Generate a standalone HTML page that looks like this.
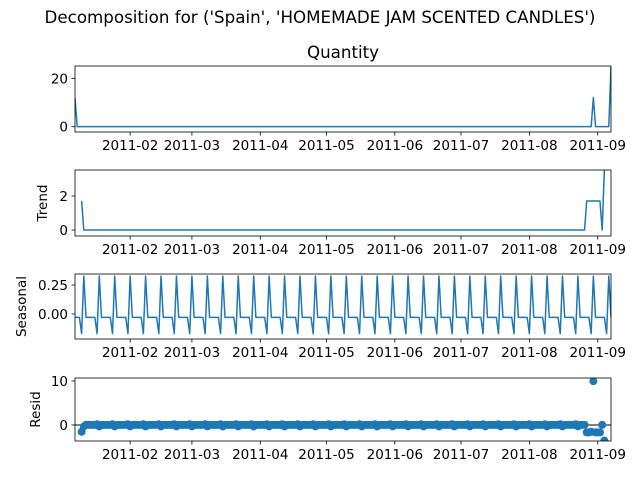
<!DOCTYPE html>
<html><head><meta charset="utf-8"><style>
html,body{margin:0;padding:0;background:#fff;width:640px;height:480px;overflow:hidden}
svg{font-family:"DejaVu Sans","Liberation Sans",sans-serif}
</style></head><body>
<svg id="fig" width="640" height="480" viewBox="0 0 640 480">
<text x="320" y="23" font-size="16.7" text-anchor="middle">Decomposition for ('Spain', 'HOMEMADE JAM SCENTED CANDLES')</text>
<text x="343" y="58" font-size="16.7" text-anchor="middle">Quantity</text>
</svg>
<script>
const startDate = "2011-01-07";
const monthTickLabels = ["2011-02","2011-03","2011-04","2011-05","2011-06","2011-07","2011-08","2011-09"];
const monthTickDays = [25,53,84,114,145,175,206,237];
const quantity = [
12,0,0,0,0,0,0, 0,0,0,0,0,0,0, 0,0,0,0,0,0,0, 0,0,0,0,0,0,0, 0,0,0,0,0,0,0,
0,0,0,0,0,0,0, 0,0,0,0,0,0,0, 0,0,0,0,0,0,0, 0,0,0,0,0,0,0, 0,0,0,0,0,0,0,
0,0,0,0,0,0,0, 0,0,0,0,0,0,0, 0,0,0,0,0,0,0, 0,0,0,0,0,0,0, 0,0,0,0,0,0,0,
0,0,0,0,0,0,0, 0,0,0,0,0,0,0, 0,0,0,0,0,0,0, 0,0,0,0,0,0,0, 0,0,0,0,0,0,0,
0,0,0,0,0,0,0, 0,0,0,0,0,0,0, 0,0,0,0,0,0,0, 0,0,0,0,0,0,0, 0,0,0,0,0,0,0,
0,0,0,0,0,0,0, 0,0,0,0,0,0,0, 0,0,0,0,0,0,0, 0,0,0,0,0,0,0, 0,0,0,0,0,0,0,
0,0,0,0,0,0,0, 0,0,0,0,0,0,0, 0,0,0,0,0,0,0, 0,0,0,0,12,0,0, 0,0,0,0,0,25];
const trend = [
null,null,null,1.71,0,0,0, 0,0,0,0,0,0,0, 0,0,0,0,0,0,0, 0,0,0,0,0,0,0, 0,0,0,0,0,0,0,
0,0,0,0,0,0,0, 0,0,0,0,0,0,0, 0,0,0,0,0,0,0, 0,0,0,0,0,0,0, 0,0,0,0,0,0,0,
0,0,0,0,0,0,0, 0,0,0,0,0,0,0, 0,0,0,0,0,0,0, 0,0,0,0,0,0,0, 0,0,0,0,0,0,0,
0,0,0,0,0,0,0, 0,0,0,0,0,0,0, 0,0,0,0,0,0,0, 0,0,0,0,0,0,0, 0,0,0,0,0,0,0,
0,0,0,0,0,0,0, 0,0,0,0,0,0,0, 0,0,0,0,0,0,0, 0,0,0,0,0,0,0, 0,0,0,0,0,0,0,
0,0,0,0,0,0,0, 0,0,0,0,0,0,0, 0,0,0,0,0,0,0, 0,0,0,0,0,0,0, 0,0,0,0,0,0,0,
0,0,0,0,0,0,0, 0,0,0,0,0,0,0, 0,0,0,0,0,0,0, 0,1.71,1.71,1.71,1.71,1.71,1.71, 1.71,0,3.57,null,null,null];
const seasonal = [
-0.029,-0.029,-0.029,-0.17,0.327,-0.029,-0.029, -0.029,-0.029,-0.029,-0.17,0.327,-0.029,-0.029, -0.029,-0.029,-0.029,-0.17,0.327,-0.029,-0.029, -0.029,-0.029,-0.029,-0.17,0.327,-0.029,-0.029, -0.029,-0.029,-0.029,-0.17,0.327,-0.029,-0.029,
-0.029,-0.029,-0.029,-0.17,0.327,-0.029,-0.029, -0.029,-0.029,-0.029,-0.17,0.327,-0.029,-0.029, -0.029,-0.029,-0.029,-0.17,0.327,-0.029,-0.029, -0.029,-0.029,-0.029,-0.17,0.327,-0.029,-0.029, -0.029,-0.029,-0.029,-0.17,0.327,-0.029,-0.029,
-0.029,-0.029,-0.029,-0.17,0.327,-0.029,-0.029, -0.029,-0.029,-0.029,-0.17,0.327,-0.029,-0.029, -0.029,-0.029,-0.029,-0.17,0.327,-0.029,-0.029, -0.029,-0.029,-0.029,-0.17,0.327,-0.029,-0.029, -0.029,-0.029,-0.029,-0.17,0.327,-0.029,-0.029,
-0.029,-0.029,-0.029,-0.17,0.327,-0.029,-0.029, -0.029,-0.029,-0.029,-0.17,0.327,-0.029,-0.029, -0.029,-0.029,-0.029,-0.17,0.327,-0.029,-0.029, -0.029,-0.029,-0.029,-0.17,0.327,-0.029,-0.029, -0.029,-0.029,-0.029,-0.17,0.327,-0.029,-0.029,
-0.029,-0.029,-0.029,-0.17,0.327,-0.029,-0.029, -0.029,-0.029,-0.029,-0.17,0.327,-0.029,-0.029, -0.029,-0.029,-0.029,-0.17,0.327,-0.029,-0.029, -0.029,-0.029,-0.029,-0.17,0.327,-0.029,-0.029, -0.029,-0.029,-0.029,-0.17,0.327,-0.029,-0.029,
-0.029,-0.029,-0.029,-0.17,0.327,-0.029,-0.029, -0.029,-0.029,-0.029,-0.17,0.327,-0.029,-0.029, -0.029,-0.029,-0.029,-0.17,0.327,-0.029,-0.029, -0.029,-0.029,-0.029,-0.17,0.327,-0.029,-0.029, -0.029,-0.029,-0.029,-0.17,0.327,-0.029,-0.029,
-0.029,-0.029,-0.029,-0.17,0.327,-0.029,-0.029, -0.029,-0.029,-0.029,-0.17,0.327,-0.029,-0.029, -0.029,-0.029,-0.029,-0.17,0.327,-0.029,-0.029, -0.029,-0.029,-0.029,-0.17,0.327,-0.029,-0.029, -0.029,-0.029,-0.029,-0.17,0.327,-0.029];
const resid = [
null,null,null,-1.54,-0.327,0.029,0.029, 0.029,0.029,0.029,0.17,-0.327,0.029,0.029, 0.029,0.029,0.029,0.17,-0.327,0.029,0.029, 0.029,0.029,0.029,0.17,-0.327,0.029,0.029, 0.029,0.029,0.029,0.17,-0.327,0.029,0.029,
0.029,0.029,0.029,0.17,-0.327,0.029,0.029, 0.029,0.029,0.029,0.17,-0.327,0.029,0.029, 0.029,0.029,0.029,0.17,-0.327,0.029,0.029, 0.029,0.029,0.029,0.17,-0.327,0.029,0.029, 0.029,0.029,0.029,0.17,-0.327,0.029,0.029,
0.029,0.029,0.029,0.17,-0.327,0.029,0.029, 0.029,0.029,0.029,0.17,-0.327,0.029,0.029, 0.029,0.029,0.029,0.17,-0.327,0.029,0.029, 0.029,0.029,0.029,0.17,-0.327,0.029,0.029, 0.029,0.029,0.029,0.17,-0.327,0.029,0.029,
0.029,0.029,0.029,0.17,-0.327,0.029,0.029, 0.029,0.029,0.029,0.17,-0.327,0.029,0.029, 0.029,0.029,0.029,0.17,-0.327,0.029,0.029, 0.029,0.029,0.029,0.17,-0.327,0.029,0.029, 0.029,0.029,0.029,0.17,-0.327,0.029,0.029,
0.029,0.029,0.029,0.17,-0.327,0.029,0.029, 0.029,0.029,0.029,0.17,-0.327,0.029,0.029, 0.029,0.029,0.029,0.17,-0.327,0.029,0.029, 0.029,0.029,0.029,0.17,-0.327,0.029,0.029, 0.029,0.029,0.029,0.17,-0.327,0.029,0.029,
0.029,0.029,0.029,0.17,-0.327,0.029,0.029, 0.029,0.029,0.029,0.17,-0.327,0.029,0.029, 0.029,0.029,0.029,0.17,-0.327,0.029,0.029, 0.029,0.029,0.029,0.17,-0.327,0.029,0.029, 0.029,0.029,0.029,0.17,-0.327,0.029,0.029,
0.029,0.029,0.029,0.17,-0.327,0.029,0.029, 0.029,0.029,0.029,0.17,-0.327,0.029,0.029, 0.029,0.029,0.029,0.17,-0.327,0.029,0.029, 0.029,-1.68,-1.68,-1.54,9.96,-1.68,-1.68, -1.68,0.029,-3.54,null,null,null];
const quantityTicks = [0,20];
const trendTicks = [0,2];
const seasonalTicks = [0,0.25];
const seasonalTickLabels = ["0.00","0.25"];
const residTicks = [0,10];

const svg = document.getElementById('fig');
const NS = "http://www.w3.org/2000/svg";
const X0 = 75, X1 = 611;
const nDays = quantity.length - 1;
function xs(d){ return X0 + d * (X1 - X0) / nDays; }
function mk(tag, attrs, parent){ const e = document.createElementNS(NS, tag); for (const k in attrs) e.setAttribute(k, attrs[k]); (parent||svg).appendChild(e); return e; }

const panels = [
 {key:'quantity', data:quantity, top:66, bot:132, lo:-2.2, hi:25.1, ticks:quantityTicks, labels:quantityTicks.map(String), ylabel:null, lx:0, kind:'line'},
 {key:'trend', data:trend, top:170, bot:236, lo:-0.35, hi:3.53, ticks:trendTicks, labels:trendTicks.map(String), ylabel:'Trend', lx:47, kind:'line'},
 {key:'seasonal', data:seasonal, top:274, bot:339, lo:-0.216, hi:0.345, ticks:seasonalTicks, labels:seasonalTickLabels, ylabel:'Seasonal', lx:26, kind:'line'},
 {key:'resid', data:resid, top:378, bot:441, lo:-3.64, hi:10.68, ticks:residTicks, labels:residTicks.map(String), ylabel:'Resid', lx:40, kind:'scatter'}
];

panels.forEach(p => {
  const g = mk('g', {});
  
  
  const ys = v => p.bot - (v - p.lo) * (p.bot - p.top) / (p.hi - p.lo);
  const cid = 'clip-' + p.key;
  const cp = mk('clipPath', {id: cid}, g);
  mk('rect', {x:X0, y:p.top, width:X1-X0, height:p.bot-p.top}, cp);
  const plot = mk('g', {'clip-path':'url(#'+cid+')'}, g);
  if (p.kind === 'line') {
    let d = '', pen = false;
    p.data.forEach((v,i) => {
      if (v === null) { pen = false; return; }
      d += (pen ? 'L' : 'M') + xs(i).toFixed(2) + ' ' + ys(v).toFixed(2);
      pen = true;
    });
    const path = mk('path', {d:d, fill:'none', stroke:'#1f77b4', 'stroke-width':1.5, 'stroke-linejoin':'round'}, plot);
    
    
  } else {
    const zl = mk('line', {x1:X0, x2:X1, y1:ys(0), y2:ys(0), stroke:'#000', 'stroke-width':1}, plot);
    
    
    p.data.forEach((v,i) => {
      if (v === null) return;
      const c = mk('circle', {cx:xs(i).toFixed(2), cy:ys(v).toFixed(2), r:4, fill:'#1f77b4'}, plot);
      
      
    });
  }
  const frame = mk('rect', {x:X0, y:p.top, width:X1-X0, height:p.bot-p.top, fill:'none', stroke:'#000', 'stroke-width':0.8}, g);
  
  
  p.ticks.forEach((t,i) => {
    const y = ys(t);
    mk('line', {x1:X0-3.5, x2:X0, y1:y, y2:y, stroke:'#000', 'stroke-width':0.8}, g);
    const tl = mk('text', {x:X0-7, y:y+5, 'font-size':13.5, 'text-anchor':'end'}, g);
    tl.textContent = p.labels[i];
    
    
  });
  monthTickDays.forEach((d,i) => {
    const x = xs(d);
    mk('line', {x1:x, x2:x, y1:p.bot, y2:p.bot+3.5, stroke:'#000', 'stroke-width':0.8}, g);
    const tl = mk('text', {x:x, y:p.bot+18, 'font-size':13.5, 'text-anchor':'middle'}, g);
    tl.textContent = monthTickLabels[i];
    
    
  });
  if (p.ylabel) {
    const cy = (p.top + p.bot) / 2;
    const yl = mk('text', {x:0, y:0, 'font-size':13.5, 'text-anchor':'middle', transform:'translate('+p.lx+','+cy+') rotate(-90)'}, g);
    yl.textContent = p.ylabel;
    
    
  }
});
</script>
</body></html>
